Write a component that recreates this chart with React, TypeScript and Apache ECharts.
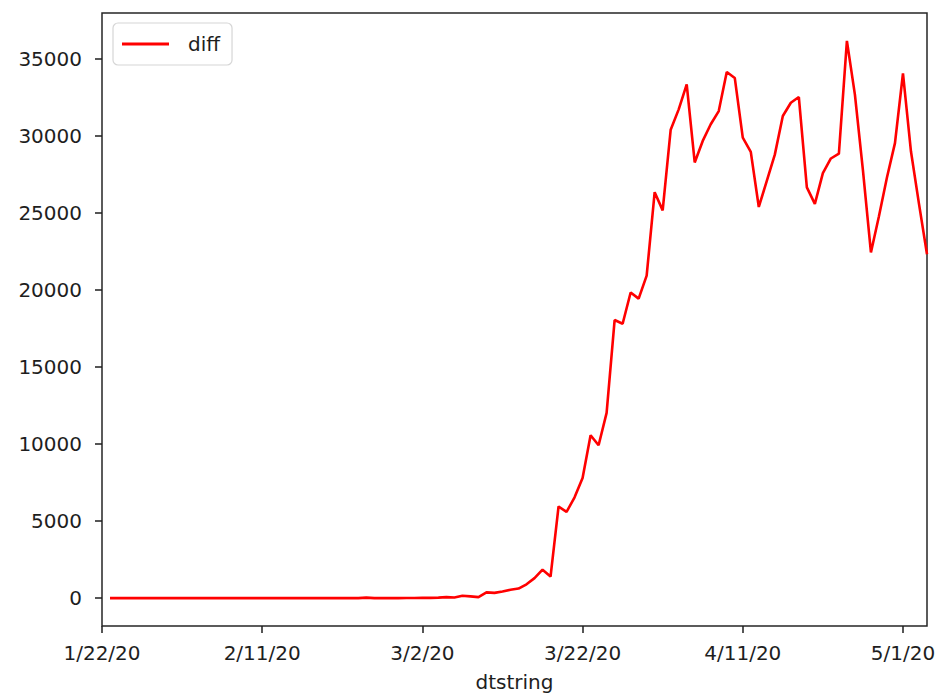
import React, { useEffect, useRef } from "react";
import * as echarts from "echarts";

const dates: string[] = [
  "1/22/20","1/23/20","1/24/20","1/25/20","1/26/20","1/27/20","1/28/20","1/29/20","1/30/20","1/31/20",
  "2/1/20","2/2/20","2/3/20","2/4/20","2/5/20","2/6/20","2/7/20","2/8/20","2/9/20","2/10/20",
  "2/11/20","2/12/20","2/13/20","2/14/20","2/15/20","2/16/20","2/17/20","2/18/20","2/19/20","2/20/20",
  "2/21/20","2/22/20","2/23/20","2/24/20","2/25/20","2/26/20","2/27/20","2/28/20","2/29/20",
  "3/1/20","3/2/20","3/3/20","3/4/20","3/5/20","3/6/20","3/7/20","3/8/20","3/9/20","3/10/20",
  "3/11/20","3/12/20","3/13/20","3/14/20","3/15/20","3/16/20","3/17/20","3/18/20","3/19/20","3/20/20",
  "3/21/20","3/22/20","3/23/20","3/24/20","3/25/20","3/26/20","3/27/20","3/28/20","3/29/20","3/30/20",
  "3/31/20","4/1/20","4/2/20","4/3/20","4/4/20","4/5/20","4/6/20","4/7/20","4/8/20","4/9/20",
  "4/10/20","4/11/20","4/12/20","4/13/20","4/14/20","4/15/20","4/16/20","4/17/20","4/18/20","4/19/20",
  "4/20/20","4/21/20","4/22/20","4/23/20","4/24/20","4/25/20","4/26/20","4/27/20","4/28/20","4/29/20",
  "4/30/20","5/1/20","5/2/20","5/3/20","5/4/20"
];

const diff: (number | null)[] = [
  null, 0, 1, 0, 3, 0, 0, 0, 0, 2,
  1, 0, 3, 0, 0, 0, 0, 0, 0, 0,
  1, 0, 1, 0, 0, 0, 0, 0, 0, 0,
  2, 0, 0, 36, 0, 6, 1, 2, 8,
  6, 24, 20, 31, 68, 45, 160, 116, 65, 376,
  340, 430, 540, 620, 900, 1300, 1850, 1400, 5950, 5600,
  6550, 7800, 10580, 9930, 12030, 18058, 17821, 19850, 19450, 20940,
  26360, 25180, 30420, 31740, 33360, 28290, 29690, 30770, 31630, 34170,
  33780, 29900, 28980, 25400, 27100, 28800, 31310, 32170, 32540, 26670,
  25600, 27600, 28550, 28870, 36188, 32700, 27800, 22450, 24800, 27320,
  29550, 34070, 29000, 25600, 22335
];

const yTicks: number[] = [0, 5000, 10000, 15000, 20000, 25000, 30000, 35000];
const seriesName = "diff";
const xName = "dtstring";

export default function App() {
  const ref = useRef<HTMLDivElement>(null);
  useEffect(() => {
    document.body.style.margin = "0";
    if (!ref.current) return;
    const chart = echarts.init(ref.current, null, { renderer: "svg" });
    const nums = diff.filter((v) => v !== null) as number[];
    const dmax = Math.max(...nums);
    const dmin = Math.min(...nums);
    const pad = (dmax - dmin) * 0.05;
    const font = "DejaVu Sans";
    const ink = "#1e1e1e";
    chart.setOption({
      animation: false,
      backgroundColor: "#ffffff",
      textStyle: { fontFamily: font },
      grid: {
        left: 102,
        top: 13,
        width: 825,
        height: 614,
        show: true,
        borderColor: "#262626",
        borderWidth: 1.5,
        backgroundColor: "transparent",
      },
      legend: {
        show: true,
        left: 113,
        top: 23,
        orient: "horizontal",
        padding: [11, 12, 11, 9],
        itemWidth: 47,
        itemHeight: 3,
        icon: "rect",
        backgroundColor: "rgba(255,255,255,0.8)",
        borderColor: "#d6d6d6",
        borderWidth: 1.2,
        borderRadius: 5,
        textStyle: {
          fontFamily: font,
          fontSize: 20,
          color: ink,
          padding: [0, 0, 0, 14],
        },
        data: [seriesName],
      },
      xAxis: {
        type: "category",
        data: dates,
        boundaryGap: false,
        name: xName,
        nameLocation: "middle",
        nameGap: 46,
        nameTextStyle: { fontFamily: font, fontSize: 20, color: ink },
        axisLine: { show: false, onZero: false },
        axisTick: {
          show: true,
          interval: 19,
          length: 7,
          inside: false,
          lineStyle: { color: ink, width: 1.5 },
        },
        axisLabel: {
          interval: 19,
          margin: 17,
          fontFamily: font,
          fontSize: 20,
          color: ink,
        },
        splitLine: { show: false },
      },
      yAxis: {
        type: "value",
        min: dmin - pad,
        max: dmax + pad,
        axisLine: { show: false, onZero: false },
        axisTick: {
          show: true,
          length: 7,
          customValues: yTicks,
          lineStyle: { color: ink, width: 1.5 },
        },
        axisLabel: {
          customValues: yTicks,
          formatter: (v: number) => String(Math.round(v)),
          margin: 20,
          fontFamily: font,
          fontSize: 20,
          color: ink,
        },
        splitLine: { show: false },
      },
      series: [
        {
          name: seriesName,
          type: "line",
          data: diff,
          symbol: "none",
          showSymbol: false,
          connectNulls: false,
          lineStyle: { color: "#ff0000", width: 2.6 },
          itemStyle: { color: "#ff0000" },
          silent: true,
        },
      ],
    });
    return () => chart.dispose();
  }, []);
  return <div ref={ref} style={{ width: 939, height: 697 }} />;
}
